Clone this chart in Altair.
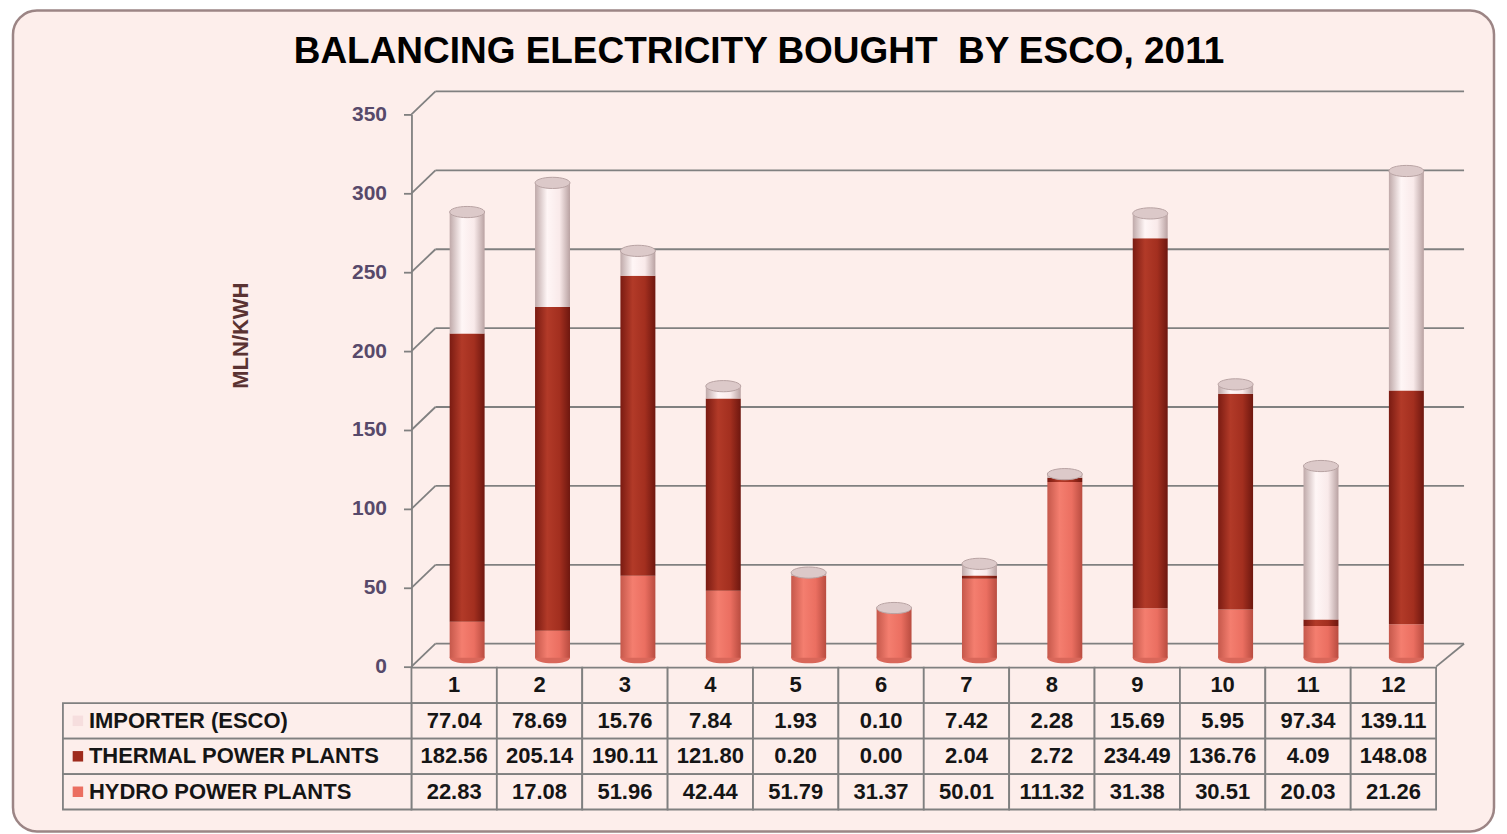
import altair as alt
import pandas as pd

months = [1, 2, 3, 4, 5, 6, 7, 8, 9, 10, 11, 12]
series = ["IMPORTER (ESCO)", "THERMAL POWER PLANTS", "HYDRO POWER PLANTS"]
importer = [77.04, 78.69, 15.76, 7.84, 1.93, 0.10, 7.42, 2.28, 15.69, 5.95, 97.34, 139.11]
thermal = [182.56, 205.14, 190.11, 121.80, 0.20, 0.00, 2.04, 2.72, 234.49, 136.76, 4.09, 148.08]
hydro = [22.83, 17.08, 51.96, 42.44, 51.79, 31.37, 50.01, 111.32, 31.38, 30.51, 20.03, 21.26]
y_ticks = [0, 50, 100, 150, 200, 250, 300, 350]
title_text = "BALANCING ELECTRICITY BOUGHT\u00a0 BY ESCO, 2011"

values = {series[0]: importer, series[1]: thermal, series[2]: hydro}
order = {series[2]: 0, series[1]: 1, series[0]: 2}

rows = []
for s in series:
    for m, v in zip(months, values[s]):
        rows.append({"month": m, "series": s, "value": v, "order": order[s],
                     "label": f"{v:.2f}"})
df = pd.DataFrame(rows)
tot = pd.DataFrame({"month": months,
                    "total": [a + b + c for a, b, c in zip(importer, thermal, hydro)]})

FONT = "Liberation Sans"
BG = "#FDEEEB"
GRID = "#808080"

W, H = 1026, 553
DX, DY = 24, 23          # 3-D depth of the back wall
BAR_W = 35
XOFF, YOFF = 13, -9       # bars sit mid-depth

xs = alt.Scale(domain=months, paddingInner=0, paddingOuter=0)
ys = alt.Scale(domain=[0, 350], nice=False)


def grad(c0, c1, c2, c3):
    return alt.Gradient(gradient="linear", x1=0, x2=1, y1=0, y2=0,
                        stops=[alt.GradientStop(color=c0, offset=0),
                               alt.GradientStop(color=c1, offset=0.35),
                               alt.GradientStop(color=c2, offset=0.7),
                               alt.GradientStop(color=c3, offset=1)])


grads = {
    series[0]: grad("#BFA9A9", "#FFF6F6", "#F9EAEA", "#B9A2A2"),
    series[1]: grad("#7A1B12", "#B23A28", "#A32F1F", "#6E170F"),
    series[2]: grad("#C5584B", "#F47E6F", "#EB6F61", "#B94C40"),
}

one = pd.DataFrame({"a": [0]})
frame = alt.Chart(one).mark_rect(
    fill=BG, stroke="#9C8585", strokeWidth=2.5, cornerRadius=24
).encode(x=alt.value(-399), x2=alt.value(1084), y=alt.value(-104), y2=alt.value(718))

title = alt.Chart(one).mark_text(
    font=FONT, fontSize=37, fontWeight="bold", color="#000000",
    align="center", baseline="middle", text=title_text
).encode(x=alt.value(348), y=alt.value(-62))

ticks_df = pd.DataFrame({"t": y_ticks})
grid_back = alt.Chart(ticks_df).mark_rule(
    color=GRID, strokeWidth=1.8, yOffset=-DY
).encode(
    y=alt.Y("t:Q", scale=ys,
            axis=alt.Axis(values=y_ticks, title="MLN/KWH", grid=False, zindex=2,
                          labelFont=FONT, labelFontSize=21, labelFontWeight="bold",
                          labelColor="#57496A", labelPadding=17,
                          domainColor=GRID, domainWidth=1.8,
                          tickColor=GRID, tickWidth=1.8, tickSize=8,
                          titleFont=FONT, titleFontSize=22, titleFontWeight="bold",
                          titleColor="#5A3232", titleX=-171, titleY=221,
                          titleAngle=270, titleAlign="center",
                          titleBaseline="middle")),
    x=alt.value(DX), x2=alt.value(W + DX + 4),
)
grid_diag = alt.Chart(ticks_df).mark_rule(
    color=GRID, strokeWidth=1.8, y2Offset=-DY
).encode(
    y=alt.Y("t:Q", scale=ys), y2="t:Q",
    x=alt.value(0), x2=alt.value(DX),
)
floor_right = alt.Chart(pd.DataFrame({"t": [0]})).mark_rule(
    color=GRID, strokeWidth=1.8, y2Offset=-DY
).encode(
    y=alt.Y("t:Q", scale=ys), y2="t:Q",
    x=alt.value(W), x2=alt.value(W + DX + 4),
)

base = alt.Chart(df).transform_stack(
    stack="value", groupby=["month"], as_=["y0", "y1"],
    sort=[alt.SortField("order", order="ascending")])

bar_layers = []
for s in [series[2], series[1], series[0]]:
    bar_layers.append(
        base.transform_filter(alt.datum.series == s)
        .mark_bar(size=BAR_W, xOffset=XOFF, yOffset=YOFF, y2Offset=YOFF, fill=grads[s])
        .encode(x=alt.X("month:O", scale=xs, axis=None),
                y=alt.Y("y0:Q", scale=ys),
                y2="y1:Q")
    )

ellipse = "M -1 0 A 1 0.32 0 1 0 1 0 A 1 0.32 0 1 0 -1 0 Z"
bottom_cap = alt.Chart(tot).transform_calculate(zero="0").mark_point(
    shape=ellipse, size=BAR_W * BAR_W, filled=True, fill="#D9675A",
    opacity=1, xOffset=XOFF, yOffset=YOFF
).encode(x=alt.X("month:O", scale=xs, axis=None),
         y=alt.Y("zero:Q", scale=ys))

top_cap = alt.Chart(tot).mark_point(
    shape=ellipse, size=BAR_W * BAR_W, filled=True, fill="#DCC9C9",
    stroke="#B8A3A3", strokeWidth=1, opacity=1, xOffset=XOFF, yOffset=YOFF
).encode(x=alt.X("month:O", scale=xs, axis=None),
         y=alt.Y("total:Q", scale=ys))

top = alt.layer(frame, grid_back, grid_diag, floor_right, bottom_cap,
                *bar_layers, top_cap, title).properties(width=W, height=H)

# ---------- data table ----------
table_rows = ["hdr"] + series
tys = alt.Scale(domain=table_rows, paddingInner=0, paddingOuter=0)
hdr = pd.DataFrame({"month": months, "series": "hdr",
                    "label": [str(m) for m in months]})
tdf = pd.concat([hdr, df[["month", "series", "label"]]], ignore_index=True)
ldf = pd.DataFrame({"series": series})

cells = alt.Chart(tdf).mark_rect(fill=BG, stroke=GRID, strokeWidth=1.8).encode(
    x=alt.X("month:O", scale=xs, axis=None),
    y=alt.Y("series:N", scale=tys, axis=None))
ctext = alt.Chart(tdf).mark_text(font=FONT, fontSize=22, fontWeight="bold",
                                 color="#151515").encode(
    x=alt.X("month:O", scale=xs, axis=None),
    y=alt.Y("series:N", scale=tys, axis=None),
    text="label:N")
lcells = alt.Chart(ldf).mark_rect(fill=BG, stroke=GRID, strokeWidth=1.8).encode(
    x=alt.value(-349), x2=alt.value(0),
    y=alt.Y("series:N", scale=tys, axis=None))
ltext = alt.Chart(ldf).mark_text(font=FONT, fontSize=22, fontWeight="bold",
                                 color="#151515", align="left").encode(
    x=alt.value(-323),
    y=alt.Y("series:N", scale=tys, axis=None),
    text="series:N")
lsq = alt.Chart(ldf).mark_square(size=110, opacity=1).encode(
    x=alt.value(-334),
    y=alt.Y("series:N", scale=tys, axis=None),
    color=alt.Color("series:N",
                    scale=alt.Scale(domain=series,
                                    range=["#F6DEDE", "#9E2A1C", "#EB6F61"]),
                    legend=None))

table = alt.layer(cells, ctext, lcells, ltext, lsq).properties(width=W, height=142)

chart = alt.vconcat(top, table, spacing=1, bounds="flush").properties(
    padding={"left": 3, "top": 0, "right": 3, "bottom": 0},
    background="#FFFFFF",
).configure_view(strokeWidth=0).resolve_scale(color="independent")

chart.save("out.html", embed_options={"renderer": "svg", "actions": False})
